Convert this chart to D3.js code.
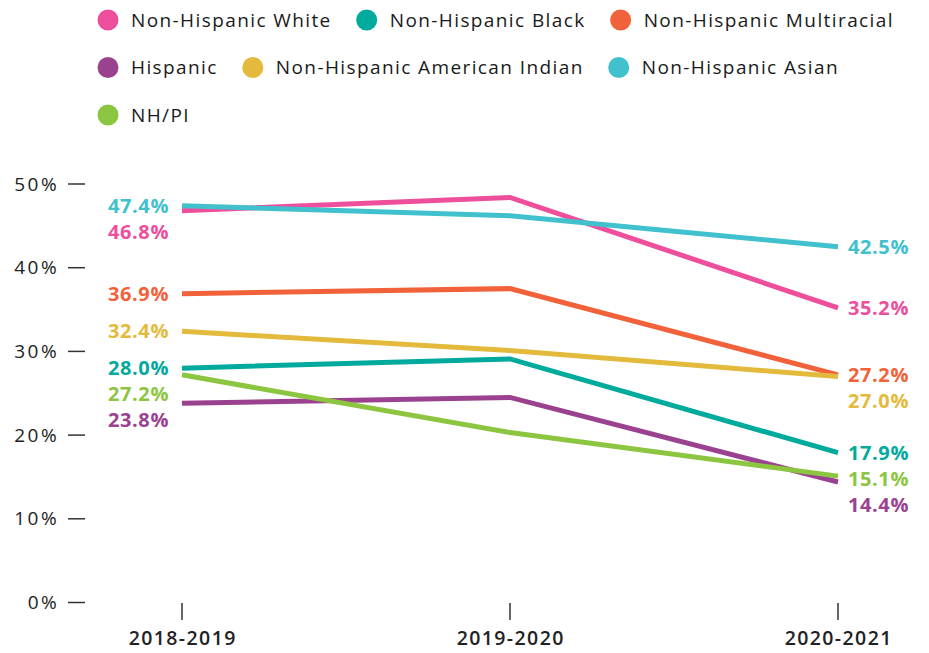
<!DOCTYPE html>
<html>
<head>
<meta charset="utf-8">
<script src="https://cdn.jsdelivr.net/npm/d3@7"></script>
<style>
  html, body { margin: 0; padding: 0; background: #fff; }
  svg { display: block; font-family: "Open Sans", "Noto Sans", sans-serif; }
</style>
</head>
<body>
<svg id="chart" width="929" height="653"></svg>
<script>
// ---- data ----
const periods = ["2018-2019", "2019-2020", "2020-2021"];
const seriesNames = ["Non-Hispanic White", "Non-Hispanic Black", "Non-Hispanic Multiracial",
  "Hispanic", "Non-Hispanic American Indian", "Non-Hispanic Asian", "NH/PI"];
const whiteVals = [46.8, 48.4, 35.2];
const blackVals = [28.0, 29.1, 17.9];
const multiVals = [36.9, 37.5, 27.2];
const hispanicVals = [23.8, 24.5, 14.4];
const amIndVals = [32.4, 30.1, 27.0];
const asianVals = [47.4, 46.2, 42.5];
const nhpiVals = [27.2, 20.3, 15.1];
const yTicks = [0, 10, 20, 30, 40, 50];
const colors = ["#EE4F9C", "#00AA9C", "#F2623A", "#9A4290", "#E4BA3C", "#40C1CD", "#8CC641"];

const allVals = [whiteVals, blackVals, multiVals, hispanicVals, amIndVals, asianVals, nhpiVals];
const series = seriesNames.map((name, i) => ({ name, values: allVals[i], color: colors[i] }));

const svg = d3.select("#chart");

// ---- scales ----
const x = d3.scalePoint().domain(periods).range([182, 838]);
const y = d3.scaleLinear().domain([0, 50]).range([602.5, 184]);

// ---- legend (flow layout) ----
const legend = svg.append("g");
const r = 10.5, maxRight = 915, rowH = 47.5;
let lx = 108, ly = 20;
series.forEach(s => {
  const g = legend.append("g");
  const t = g.append("text").attr("x", 23).attr("y", 0).attr("dy", "0.35em")
    .attr("font-size", 19).attr("letter-spacing", 1.4).attr("fill", "#1a1a1a").text(s.name);
  const w = t.node().getComputedTextLength();
  if (lx + 23 + w > maxRight) { lx = 108; ly += rowH; }
  g.attr("transform", `translate(${lx},${ly})`);
  g.append("circle").attr("r", r).attr("fill", s.color);
  lx += 23 + w + 35;
});

// ---- y axis ticks ----
const yAxis = svg.append("g");
yAxis.selectAll("line").data(yTicks).join("line")
  .attr("x1", 68).attr("x2", 85)
  .attr("y1", d => y(d)).attr("y2", d => y(d))
  .attr("stroke", "#333").attr("stroke-width", 1.5);
yAxis.selectAll("text").data(yTicks).join("text")
  .attr("x", 59).attr("y", d => y(d)).attr("dy", "0.35em")
  .attr("text-anchor", "end").attr("font-size", 19).attr("letter-spacing", 2.4)
  .attr("fill", "#222")
  .text(d => d + "%");

// ---- x axis ticks ----
const xAxis = svg.append("g");
xAxis.selectAll("line").data(periods).join("line")
  .attr("x1", d => x(d)).attr("x2", d => x(d))
  .attr("y1", 603).attr("y2", 620)
  .attr("stroke", "#333").attr("stroke-width", 1.5);
xAxis.selectAll("text").data(periods).join("text")
  .attr("x", d => x(d) + 0.7).attr("y", 645)
  .attr("text-anchor", "middle").attr("font-size", 19.5).attr("letter-spacing", 1.4)
  .attr("font-weight", 600).attr("fill", "#222")
  .text(d => d);

// ---- lines ----
const line = d3.line().x((d, i) => x(periods[i])).y(d => y(d));
svg.append("g").selectAll("path").data(series).join("path")
  .attr("d", s => line(s.values))
  .attr("fill", "none").attr("stroke", s => s.color)
  .attr("stroke-width", 5).attr("stroke-linejoin", "miter");

// ---- end labels with simple downward dodge ----
function dodge(items, gap) {
  items.sort((a, b) => a.y - b.y);
  let prev = -Infinity;
  items.forEach(it => { it.ly = Math.max(it.y, prev + gap); prev = it.ly; });
  return items;
}
const fmt = v => v.toFixed(1) + "%";
const leftItems = dodge(series.map(s => ({ s, v: s.values[0], y: y(s.values[0]) })), 26);
const rightItems = dodge(series.map(s => ({ s, v: s.values[2], y: y(s.values[2]) })), 26);

svg.append("g").selectAll("text").data(leftItems).join("text")
  .attr("x", x(periods[0]) - 13).attr("y", d => d.ly).attr("dy", "0.35em")
  .attr("text-anchor", "end").attr("font-size", 20).attr("letter-spacing", 0.6)
  .attr("font-weight", 700)
  .attr("fill", d => d.s.color).text(d => fmt(d.v));
svg.append("g").selectAll("text").data(rightItems).join("text")
  .attr("x", x(periods[2]) + 10).attr("y", d => d.ly).attr("dy", "0.35em")
  .attr("text-anchor", "start").attr("font-size", 20).attr("letter-spacing", 0.6)
  .attr("font-weight", 700)
  .attr("fill", d => d.s.color).text(d => fmt(d.v));
</script>
</body>
</html>
